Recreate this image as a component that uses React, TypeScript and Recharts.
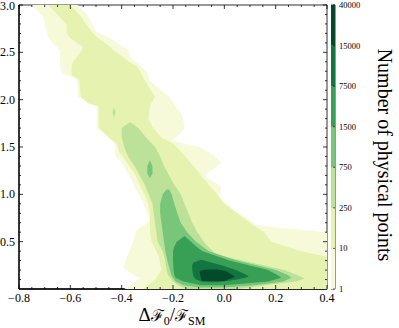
import React from "react"
import { ScatterChart, Scatter, XAxis, YAxis, ReferenceArea, BarChart, Bar } from "recharts"

const W = 399
const H = 328
const PLOT = { left: 19, right: 327, top: 5, bottom: 289 }
const FONT = "Liberation Serif"

// contourf colours, lowest level first (YlGn)
const COLORS = ["#f7fad9", "#e6f3b0", "#bce29a", "#78c679", "#37a055", "#137540", "#034a2b"]
const cbLevels = [1, 10, 250, 750, 1500, 7500, 15000, 40000]

const xMajor = [-0.8, -0.6, -0.4, -0.2, 0, 0.2, 0.4]
const xMinor = [-0.75, -0.7, -0.65, -0.55, -0.5, -0.45, -0.35, -0.3, -0.25, -0.15, -0.1, -0.05, 0.05, 0.1, 0.15, 0.25, 0.3, 0.35]
const yMajor = [0.5, 1, 1.5, 2, 2.5, 3]
const yMinor = [0.1, 0.2, 0.3, 0.4, 0.6, 0.7, 0.8, 0.9, 1.1, 1.2, 1.3, 1.4, 1.6, 1.7, 1.8, 1.9, 2.1, 2.2, 2.3, 2.4, 2.6, 2.7, 2.8, 2.9]

// contour regions, rows of [y, left x, right x]
const level1 = [
  [3.0, -0.751, -0.572], [2.88, -0.705, -0.53], [2.72, -0.692, -0.5], [2.65, -0.685, -0.445],
  [2.52, -0.64, -0.375], [2.44, -0.64, -0.365], [2.34, -0.638, -0.32], [2.29, -0.634, -0.3],
  [2.21, -0.575, -0.293], [2.14, -0.572, -0.265], [2.03, -0.569, -0.215], [1.93, -0.497, -0.19],
  [1.82, -0.497, -0.161], [1.7, -0.497, -0.155], [1.62, -0.46, -0.18], [1.57, -0.44, -0.205],
  [1.52, -0.426, -0.14], [1.5, -0.426, -0.096], [1.41, -0.426, -0.04], [1.33, -0.4, -0.012],
  [1.2, -0.37, -0.077], [1.08, -0.35, -0.012], [0.96, -0.325, -0.018], [0.83, -0.305, 0.04],
  [0.73, -0.29, 0.1], [0.68, -0.31, 0.124], [0.65, -0.33, 0.2], [0.6, -0.345, 0.4],
  [0.5, -0.355, 0.4], [0.4, -0.37, 0.4], [0.3, -0.385, 0.4], [0.22, -0.394, 0.4],
  [0.11, -0.329, 0.4], [0, -0.39, 0.4],
]
const level2 = [
  [3.0, -0.686, -0.6], [2.9, -0.65, -0.565], [2.79, -0.614, -0.536], [2.7, -0.614, -0.51],
  [2.65, -0.6, -0.49], [2.56, -0.552, -0.445], [2.52, -0.556, -0.43], [2.45, -0.575, -0.395],
  [2.4, -0.59, -0.37], [2.35, -0.595, -0.34], [2.26, -0.595, -0.32], [2.21, -0.565, -0.312],
  [2.03, -0.56, -0.27], [1.96, -0.53, -0.285], [1.93, -0.49, -0.29], [1.8, -0.49, -0.295],
  [1.71, -0.49, -0.28], [1.6, -0.45, -0.245], [1.54, -0.42, -0.2], [1.45, -0.41, -0.168],
  [1.3, -0.37, -0.12], [1.2, -0.345, -0.09], [1.1, -0.33, -0.06], [0.99, -0.31, -0.025],
  [0.9, -0.296, 0.0], [0.8, -0.29, 0.05], [0.68, -0.29, 0.11], [0.6, -0.29, 0.155],
  [0.5, -0.283, 0.183], [0.4, -0.265, 0.3], [0.34, -0.255, 0.4], [0.2, -0.245, 0.4],
  [0.1, -0.27, 0.4], [0, -0.317, 0.4],
]
const level3Spot = [[1.92, -0.43, -0.43], [1.87, -0.436, -0.424], [1.81, -0.43, -0.43]]
const level3 = [
  [1.76, -0.37, -0.365], [1.7, -0.4, -0.335], [1.6, -0.4, -0.305], [1.5, -0.39, -0.27],
  [1.4, -0.375, -0.25], [1.3, -0.35, -0.235], [1.2, -0.33, -0.215], [1.1, -0.31, -0.195],
  [1.0, -0.295, -0.17], [0.9, -0.28, -0.155], [0.8, -0.275, -0.14], [0.7, -0.27, -0.125],
  [0.6, -0.265, -0.105], [0.5, -0.26, -0.08], [0.4, -0.24, -0.045], [0.35, -0.235, -0.02],
  [0.3, -0.23, 0.07], [0.2, -0.225, 0.235], [0.15, -0.22, 0.28], [0.11, -0.21, 0.313],
  [0.08, -0.2, 0.28], [0.04, -0.18, 0.16], [0, -0.15, 0.05],
]
const level4Spot = [[1.36, -0.29, -0.29], [1.3, -0.3, -0.28], [1.22, -0.3, -0.28], [1.17, -0.29, -0.29]]
const level4 = [
  [1.05, -0.225, -0.215], [1.0, -0.24, -0.205], [0.9, -0.25, -0.195], [0.8, -0.25, -0.183],
  [0.7, -0.245, -0.17], [0.6, -0.24, -0.145], [0.5, -0.235, -0.11], [0.4, -0.23, -0.06],
  [0.3, -0.222, 0.05], [0.2, -0.212, 0.2], [0.15, -0.207, 0.245], [0.12, -0.2, 0.262],
  [0.08, -0.19, 0.23], [0.04, -0.16, 0.12], [0.015, -0.1, 0.0],
]
const level5 = [
  [0.56, -0.155, -0.155], [0.5, -0.185, -0.13], [0.45, -0.195, -0.11], [0.4, -0.2, -0.085],
  [0.3, -0.2, 0.02], [0.2, -0.198, 0.17], [0.15, -0.195, 0.205], [0.12, -0.19, 0.222],
  [0.08, -0.16, 0.17], [0.04, -0.09, 0.0],
]
const level6 = [
  [0.31, -0.09, -0.09], [0.28, -0.12, -0.05], [0.25, -0.125, -0.012], [0.2, -0.125, 0.045],
  [0.15, -0.122, 0.085], [0.13, -0.12, 0.095], [0.1, -0.11, 0.05], [0.08, -0.09, 0.0],
  [0.07, -0.06, -0.03],
]
const level7 = [
  [0.205, -0.07, -0.03], [0.19, -0.096, 0.005], [0.15, -0.095, 0.03], [0.13, -0.092, 0.042],
  [0.1, -0.09, 0.015], [0.085, -0.085, 0.0],
]

const regions = [
  { rows: level1, level: 0 },
  { rows: level2, level: 1 },
  { rows: level3Spot, level: 2 },
  { rows: level3, level: 2 },
  { rows: level4Spot, level: 3 },
  { rows: level4, level: 3 },
  { rows: level5, level: 4 },
  { rows: level6, level: 5 },
  { rows: level7, level: 6 },
]

// left edge top->bottom, then right edge bottom->top
const toPolygon = (rows: number[][]) => {
  const sorted = [...rows].sort((a, b) => b[0] - a[0])
  const left = sorted.map((r) => ({ x: r[1], y: r[0] }))
  const right = [...sorted].reverse().map((r) => ({ x: r[2], y: r[0] }))
  return [...left, ...right]
}

const fillShape = (color: string) => (p: any) => {
  const pts = (p.points || []).filter((q: any) => q.x != null && q.y != null)
  if (!pts.length) return <g />
  const d = "M" + pts.map((q: any) => `${q.x},${q.y}`).join("L") + "Z"
  return <path d={d} fill={color} stroke="none" />
}

const noDot = () => <g />

const fmt = (v: number) => v.toFixed(1).replace("-", "\u2212")

const XTick = (props: any) => {
  const { x, payload } = props
  const major = xMajor.includes(payload.value)
  const len = major ? 4 : 2
  return (
    <g>
      <line x1={x} x2={x} y1={PLOT.bottom} y2={PLOT.bottom - len} stroke="#000" strokeWidth={0.8} />
      <line x1={x} x2={x} y1={PLOT.top} y2={PLOT.top + len} stroke="#000" strokeWidth={0.8} />
      {major && (
        <text x={x} y={PLOT.bottom + 13} textAnchor="middle" fontFamily={FONT} fontSize={12} style={{ fill: "#000" }}>
          {fmt(payload.value)}
        </text>
      )}
    </g>
  )
}

const YTick = (props: any) => {
  const { y, payload } = props
  const major = yMajor.includes(payload.value)
  const len = major ? 4 : 2
  return (
    <g>
      <line x1={PLOT.left} x2={PLOT.left + len} y1={y} y2={y} stroke="#000" strokeWidth={0.8} />
      <line x1={PLOT.right} x2={PLOT.right - len} y1={y} y2={y} stroke="#000" strokeWidth={0.8} />
      {major && (
        <text x={PLOT.left - 4} y={Math.max(y + 4, 10)} textAnchor="end" fontFamily={FONT} fontSize={12} style={{ fill: "#000" }}>
          {fmt(payload.value)}
        </text>
      )}
    </g>
  )
}

const cbRow: any = { name: "cb" }
COLORS.forEach((_, i) => {
  cbRow[`s${i}`] = 1
})
const cbData = [cbRow]
const cbTicks = cbLevels.map((_, i) => i)

const CbTick = (props: any) => {
  const { x, y, payload } = props
  return (
    <g>
      <line x1={x - 6} x2={x - 4} y1={y} y2={y} stroke="#000" strokeWidth={0.6} />
      <text x={x} y={y + 3} fontFamily={FONT} fontSize={8.5} style={{ fill: "#000" }}>
        {cbLevels[payload.value]}
      </text>
    </g>
  )
}

export default function App() {
  return (
    <div style={{ position: "absolute", left: 0, top: 0, width: W, height: H, background: "#fff" }}>
      <ScatterChart
        width={W}
        height={H}
        margin={{ top: PLOT.top, right: W - PLOT.right, bottom: 0, left: 0 }}
      >
        <XAxis
          type="number"
          dataKey="x"
          domain={[-0.8, 0.4]}
          ticks={[...xMajor, ...xMinor]}
          interval={0}
          height={H - PLOT.bottom}
          tick={<XTick />}
          tickLine={false}
          axisLine={{ stroke: "#000", strokeWidth: 1.3 }}
          allowDataOverflow
        />
        <YAxis
          type="number"
          dataKey="y"
          domain={[0, 3]}
          ticks={[...yMajor, ...yMinor]}
          interval={0}
          width={PLOT.left}
          tick={<YTick />}
          tickLine={false}
          axisLine={{ stroke: "#000", strokeWidth: 1.3 }}
          allowDataOverflow
        />
        {regions.map((r, i) => (
          <Scatter
            key={`region-${i}`}
            data={toPolygon(r.rows)}
            fill={COLORS[r.level]}
            line={fillShape(COLORS[r.level])}
            shape={noDot}
            isAnimationActive={false}
          />
        ))}
        <ReferenceArea x1={-0.8} x2={0.4} y1={0} y2={3} fill="none" stroke="#333" strokeWidth={1} />
      </ScatterChart>

      <div style={{ position: "absolute", left: 331, top: 0 }}>
        <BarChart
          width={40}
          height={H}
          data={cbData}
          margin={{ top: PLOT.top, right: 0, bottom: H - PLOT.bottom, left: 0 }}
          barCategoryGap={0}
        >
          <XAxis dataKey="name" type="category" hide />
          <YAxis
            orientation="right"
            type="number"
            domain={[0, 7]}
            ticks={cbTicks}
            interval={0}
            width={36}
            tickSize={0}
            tickMargin={4}
            tick={<CbTick />}
            tickLine={false}
            axisLine={false}
          />
          {COLORS.map((c, i) => (
            <Bar key={`cb-${i}`} dataKey={`s${i}`} stackId="cb" fill={c} isAnimationActive={false} />
          ))}
          <ReferenceArea y1={0} y2={7} fill="none" stroke="#000" strokeWidth={0.8} />
        </BarChart>
      </div>

      <svg width={W} height={H} style={{ position: "absolute", left: 0, top: 0, pointerEvents: "none" }}>
        <text x={172} y={321} textAnchor="middle" fontFamily={FONT} fontSize={19} fill="#000">
          <tspan>Δ</tspan>
          <tspan fontFamily="DejaVu Serif" fontSize={16}>ℱ</tspan>
          <tspan fontSize={12} dy={4}>0</tspan>
          <tspan dy={-4}>/</tspan>
          <tspan fontFamily="DejaVu Serif" fontSize={16}>ℱ</tspan>
          <tspan fontSize={12} dy={4}>SM</tspan>
        </text>
        <text
          x={385}
          y={155}
          transform="rotate(90 385 155)"
          textAnchor="middle"
          dominantBaseline="central"
          fontFamily={FONT}
          fontSize={20}
          fill="#000"
        >
          Number of physical points
        </text>
      </svg>
    </div>
  )
}
